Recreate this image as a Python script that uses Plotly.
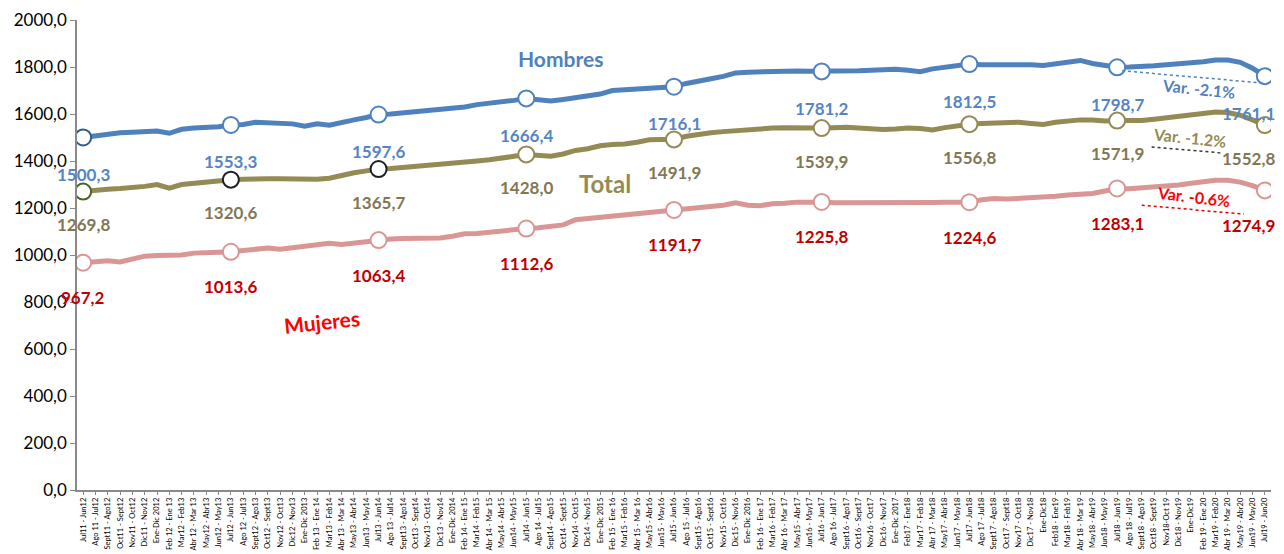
import plotly.graph_objects as go

periods = [
    "Jul11 - Jun12", "Ago 11 - Jul12", "Sept11 - Ago12", "Oct11 - Sept12", "Nov11 - Oct12", "Dic11 - Nov12",
    "Ene-Dic 2012", "Feb 12 - Ene 13", "Mar12 - Feb13", "Abr 12 - Mar 13", "May12 - Abr13", "Jun12 - May13",
    "Jul12 - Jun13", "Ago 12 - Jul13", "Sept12 - Ago13", "Oct12 - Sept13", "Nov12 - Oct13", "Dic12 - Nov13",
    "Ene-Dic 2013", "Feb 13 - Ene 14", "Mar13 - Feb14", "Abr 13 - Mar 14", "May13 - Abr14", "Jun13 - May14",
    "Jul13 - Jun14", "Ago 13 - Jul14", "Sept13 - Ago14", "Oct13 - Sept14", "Nov13 - Oct14", "Dic13 - Nov14",
    "Ene-Dic 2014", "Feb 14 - Ene 15", "Mar14 - Feb15", "Abr 14 - Mar 15", "May14 - Abr15", "Jun14 - May15",
    "Jul14 - Jun15", "Ago 14 - Jul15", "Sept14 - Ago15", "Oct14 - Sept15", "Nov14 - Oct15", "Dic14 - Nov15",
    "Ene-Dic 2015", "Feb 15 - Ene 16", "Mar15 - Feb16", "Abr 15 - Mar 16", "May15 - Abr16", "Jun15 - May16",
    "Jul15 - Jun16", "Ago 15 - Jul16", "Sept15 - Ago16", "Oct15 - Sept16", "Nov15 - Oct16", "Dic15 - Nov16",
    "Ene-Dic 2016", "Feb 16 - Ene 17", "Mar16 - Feb17", "Abr 16 - Mar 17", "May15 - Abr17", "Jun16 - May17",
    "Jul16 - Jun17", "Ago 16 - Jul17", "Sept16 - Ago17", "Oct16 - Sept17", "Nov16 - Oct17", "Dic16 - Nov17",
    "Ene-Dic 2017", "Feb17 - Ene18", "Mar17 - Feb18", "Abr 17 - Mar18", "May17 - Abr18", "Jun17 - May18",
    "Jul17 - Jun18", "Ago 17 - Jul18", "Sept17 - Ago18", "Oct17 - Sept18", "Nov17 - Oct18", "Dic17 - Nov18",
    "Ene-Dic18", "Feb18 - Ene19", "Mar18 - Feb19", "Abr 18 - Mar 19", "May18 - Abr19", "Jun18 - May19",
    "Jul18 - Jun19", "Ago 18 - Jul19", "Sept18 - Ago19", "Oct18 - Sept19", "Nov18-Oct 19", "Dic18 - Nov19",
    "Ene-Dic19", "Feb 19 - Ene 20", "Mar19 - Feb20", "Abr 19 - Mar 20", "May19 - Abr20", "Jun19 - May20",
    "Jul19 - Jun20",
]

hombres = [
    1500.3, 1508, 1512, 1520, 1522, 1524, 1528, 1518, 1535, 1540, 1542, 1546,
    1553.3, 1555, 1565, 1563, 1560, 1558, 1548, 1558, 1552, 1565, 1575, 1585,
    1597.6, 1600, 1605, 1610, 1612, 1615, 1622, 1630, 1640, 1645, 1650, 1658,
    1666.4, 1660, 1655, 1662, 1670, 1678, 1685, 1700, 1703, 1708, 1712, 1714,
    1716.1, 1730, 1742, 1750, 1760, 1775, 1778, 1780, 1779, 1782, 1783, 1782,
    1781.2, 1783, 1782, 1784, 1786, 1788, 1790, 1786, 1780, 1792, 1800, 1806,
    1812.5, 1810, 1810, 1812, 1815, 1810, 1806, 1815, 1822, 1828, 1815, 1805,
    1798.7, 1800, 1800, 1805, 1810, 1812, 1818, 1822, 1830, 1830, 1820, 1795,
    1761.1,
]

total = [
    1269.8, 1276, 1280, 1283, 1285, 1292, 1300, 1285, 1300, 1306, 1310, 1315,
    1320.6, 1322, 1326, 1325, 1325, 1324, 1320, 1322, 1327, 1340, 1350, 1358,
    1365.7, 1368, 1372, 1375, 1380, 1385, 1390, 1395, 1400, 1405, 1410, 1420,
    1428.0, 1425, 1420, 1430, 1445, 1452, 1465, 1470, 1472, 1480, 1490, 1492,
    1491.9, 1505, 1515, 1520, 1525, 1530, 1535, 1538, 1540, 1542, 1540, 1540,
    1539.9, 1542, 1544, 1540, 1535, 1534, 1536, 1540, 1538, 1532, 1542, 1550,
    1556.8, 1560, 1562, 1565, 1565, 1560, 1555, 1565, 1570, 1575, 1574, 1570,
    1571.9, 1572, 1572, 1578, 1585, 1590, 1596, 1602, 1608, 1606, 1595, 1575,
    1552.8,
]

mujeres = [
    967.2, 972, 975, 970, 980, 995, 998, 998, 1000, 1008, 1012, 1012,
    1013.6, 1020, 1028, 1030, 1025, 1030, 1035, 1042, 1050, 1045, 1052, 1058,
    1063.4, 1068, 1070, 1070, 1070, 1072, 1080, 1090, 1092, 1098, 1105, 1110,
    1112.6, 1116, 1120, 1128, 1150, 1155, 1160, 1168, 1172, 1178, 1182, 1188,
    1191.7, 1200, 1205, 1210, 1212, 1222, 1212, 1210, 1218, 1220, 1225, 1224,
    1225.8, 1222, 1222, 1221, 1221, 1220, 1218, 1220, 1222, 1223, 1224, 1226,
    1224.6, 1235, 1240, 1238, 1240, 1242, 1245, 1250, 1255, 1258, 1262, 1272,
    1283.1, 1282, 1285, 1290, 1292, 1298, 1305, 1312, 1318, 1318, 1310, 1295,
    1274.9,
]

marked_idx = list(range(0, 97, 12))
y_ticks = [0, 200, 400, 600, 800, 1000, 1200, 1400, 1600, 1800, 2000]

FONT = "Lato, Calibri, sans-serif"
C_H = "#4F81BD"
C_T = "#948A54"
C_M = "#D99694"
L_H = "#5585C4"
L_T = "#827754"
L_M = "#C00000"

x = list(range(len(periods)))

series = [
    ("Hombres", hombres, C_H, L_H, ["#2E5B8F"] + [C_H] * 8, -37),
    ("Total", total, C_T, L_T, ["#4F6228", "#1F1F1F", "#1F1F1F"] + [C_T] * 6, -33),
    ("Mujeres", mujeres, C_M, L_M, [C_M] * 9, -35),
]

fig = go.Figure()
annotations = []
for name, vals, col, lcol, mk_cols, yshift in series:
    fig.add_trace(go.Scatter(
        x=x, y=vals, mode="lines", name=name,
        line=dict(color=col, width=5), hoverinfo="y",
    ))
    fig.add_trace(go.Scatter(
        x=marked_idx, y=[vals[i] for i in marked_idx], mode="markers", name=name,
        marker=dict(size=16, color="white", line=dict(color=mk_cols, width=2)),
        hoverinfo="skip",
    ))
    for k, i in enumerate(marked_idx):
        annotations.append(dict(
            x=i, y=vals[i], xref="x", yref="y", showarrow=False,
            text=f"{vals[i]:.1f}".replace(".", ","),
            yshift=yshift, xshift=(-16 if i == 96 else 0),
            font=dict(family=FONT, size=17, color=lcol, weight="bold"),
        ))

# series names and variation notes
annotations += [
    dict(x=38.8, y=1838, text="Hombres", showarrow=False,
         font=dict(family=FONT, size=21, color=C_H, weight="bold")),
    dict(x=42.4, y=1306, text="Total", showarrow=False,
         font=dict(family=FONT, size=24, color=C_T, weight="bold")),
    dict(x=19.4, y=715, text="Mujeres", showarrow=False, textangle=-6,
         font=dict(family=FONT, size=21, color="#FF0000", weight="bold")),
    dict(x=90.6, y=1708, text="Var. -2.1%", showarrow=False, textangle=6,
         font=dict(family=FONT, size=16, color=C_H, weight="bold")),
    dict(x=89.9, y=1500, text="Var. -1.2%", showarrow=False, textangle=6,
         font=dict(family=FONT, size=16, color=C_T, weight="bold")),
    dict(x=90.2, y=1250, text="Var. -0.6%", showarrow=False, textangle=7,
         font=dict(family=FONT, size=16, color="#FF0000", weight="bold")),
]

shapes = [
    dict(type="line", xref="x", yref="y", x0=84.4, y0=1784, x1=95.8, y1=1732,
         line=dict(color=C_H, width=1.5, dash="dot")),
    dict(type="line", xref="x", yref="y", x0=86.8, y0=1460, x1=92.5, y1=1434,
         line=dict(color="#3A3A2A", width=1.5, dash="dot")),
    dict(type="line", xref="x", yref="y", x0=86.0, y0=1212, x1=94.3, y1=1174,
         line=dict(color="#E00000", width=1.5, dash="dot")),
]

# the page adds an 8px body margin, so the figure is sized to fill the rest
fig.update_layout(
    width=1276, height=546,
    margin=dict(l=69, r=13, t=12, b=64),
    paper_bgcolor="white", plot_bgcolor="white",
    showlegend=False,
    separators=",.",
    annotations=annotations,
    shapes=shapes,
    font=dict(family=FONT),
)

fig.update_xaxes(
    range=[-0.5, 96.5], tickmode="array", tickvals=x, ticktext=periods,
    tickangle=-90, tickfont=dict(family=FONT, size=7.5, color="black"),
    showgrid=False, zeroline=False, showline=True, linecolor="#898989", linewidth=1.5,
    ticks="outside", ticklen=3, tickcolor="#898989", automargin=False,
)
fig.update_yaxes(
    range=[0, 2000], tickmode="array", tickvals=y_ticks, tickformat=".1f",
    tickfont=dict(family=FONT, size=17, color="black"),
    showgrid=False, zeroline=False, showline=True, linecolor="#898989", linewidth=1.5,
    ticks="outside", ticklen=5, tickcolor="#898989", automargin=False,
)

fig.write_html("out.html")
